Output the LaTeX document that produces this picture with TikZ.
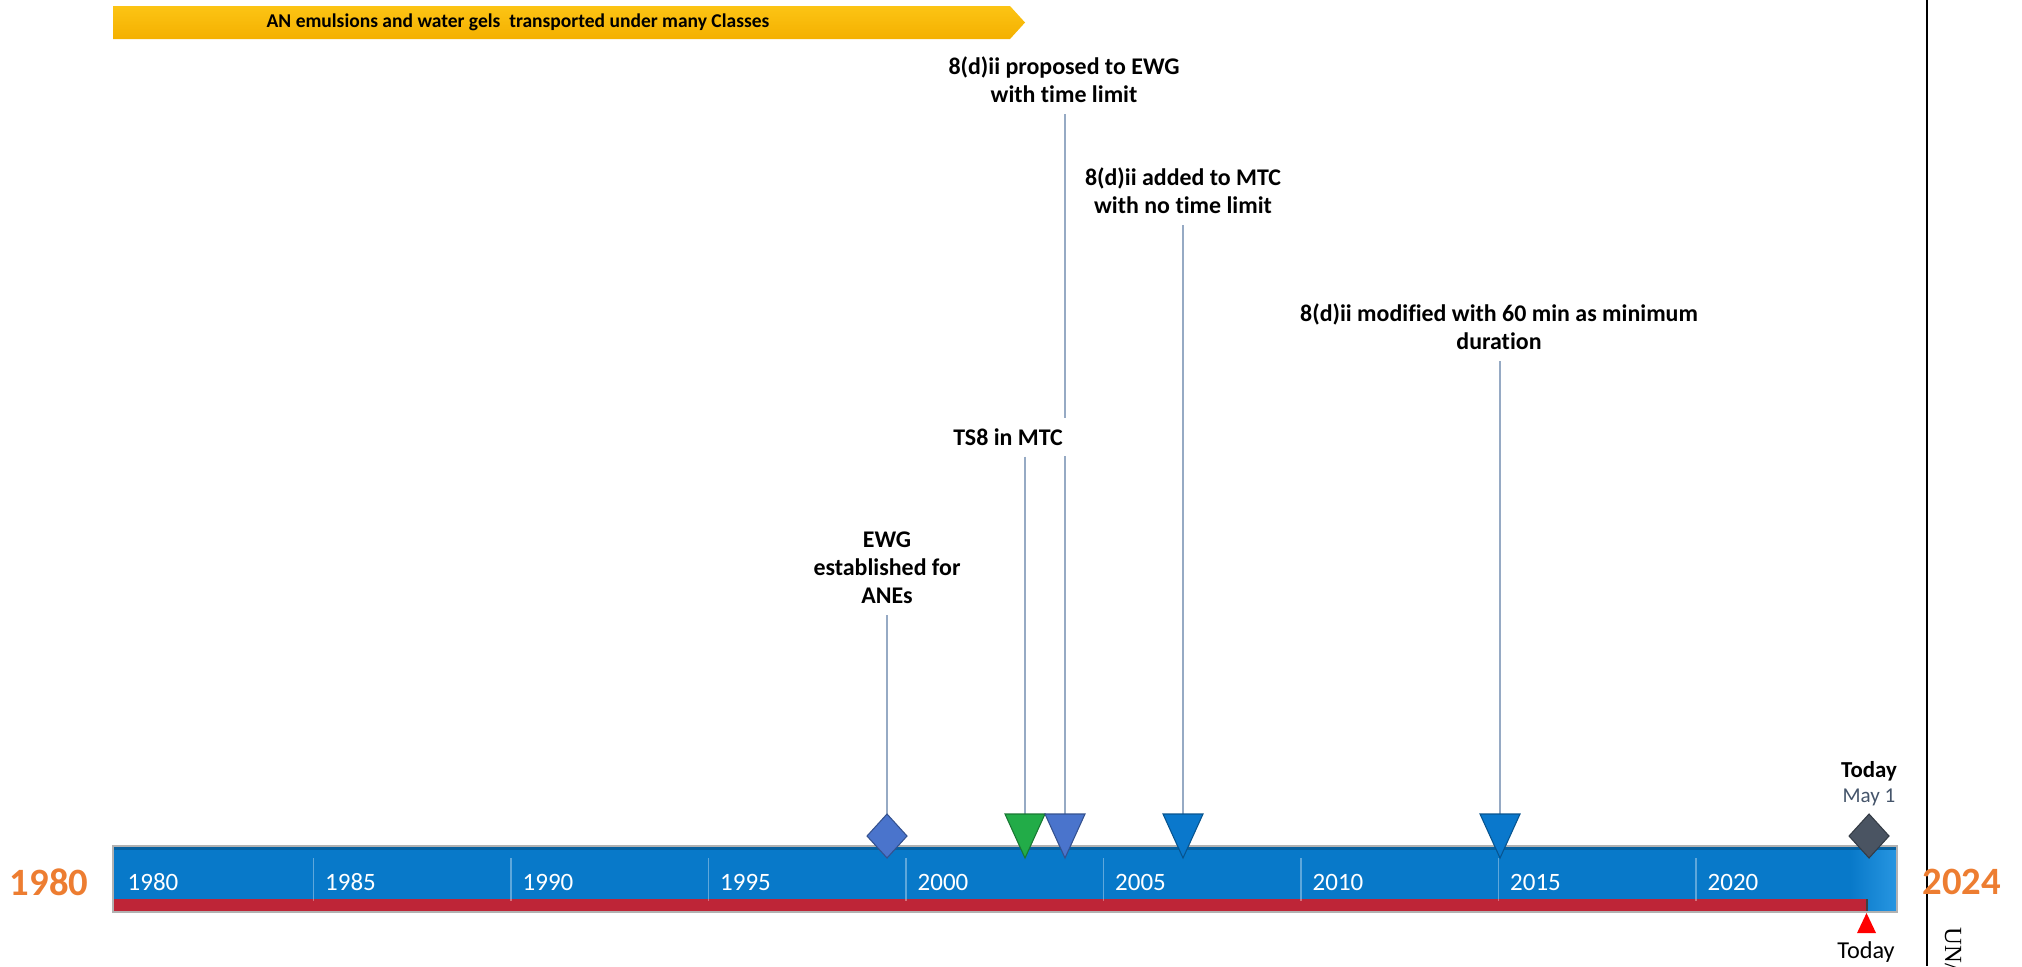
\documentclass[tikz,border=0pt]{standalone}
\usepackage{fontspec}
\setmainfont{Carlito}[Ligatures=NoCommon]
\newfontfamily\unfont{Liberation Serif}
\usetikzlibrary{backgrounds}
\definecolor{barblue}{RGB}{8,121,201}
\definecolor{barlight}{RGB}{40,150,225}
\definecolor{barred}{RGB}{190,37,55}
\definecolor{goldA}{RGB}{252,196,20}
\definecolor{goldB}{RGB}{244,176,0}
\definecolor{tsgreen}{RGB}{34,172,72}
\definecolor{ewgblue}{RGB}{74,116,204}
\definecolor{mtcblue}{RGB}{10,120,204}
\definecolor{todaygray}{RGB}{74,84,98}
\definecolor{maygray}{RGB}{68,84,106}
\definecolor{stemgray}{RGB}{150,170,196}
\definecolor{yearorange}{RGB}{237,125,49}
\begin{document}
\begin{tikzpicture}[x=0.01cm,y=-0.01cm,
    evtext/.style={align=center,font=\bfseries\fontsize{6.8}{8}\selectfont,inner sep=3pt,fill=white},
    yeartext/.style={anchor=west,inner sep=0pt,text=white,font=\fontsize{7.1}{8}\selectfont},
    bigyear/.style={text=yearorange,font=\bfseries\fontsize{11}{13}\selectfont,inner sep=0pt},
    stem/.style={stemgray,line width=0.6pt}]
        \useasboundingbox (0,0) rectangle (2022,966);
        %% Banner
        \shade[top color=goldA,bottom color=goldB] (113,6) -- (1010,6) -- (1025,22.5) -- (1010,39) -- (113,39) -- cycle;
        \node[font=\bfseries\fontsize{5.55}{6}\selectfont,inner sep=0pt] (banner) at (518,22.5) {AN emulsions and water gels\ \ transported under many Classes};
        %% Bar
        \fill[barblue] (113,846) rectangle (1897,912);
        \fill[barblue!80!black] (113,846) rectangle (1897,850);
        \shade[left color=barblue,right color=barlight] (1850,850) rectangle (1897,912);
        \fill[barred] (113,899) rectangle (1867,912);
        \draw[black!75,line width=0.5pt] (1867,899) -- (1867,912);
        \draw[gray!60,line width=0.4pt] (113,846) rectangle (1897,912);
        %% Ticks and years
        \foreach \yr in {1980,1985,...,2020}{
            \pgfmathsetmacro\xx{116+(\yr-1980)*39.5}
            \ifnum\yr>1980 \draw[white,opacity=0.35,line width=0.5pt] (\xx,858) -- (\xx,901);\fi
            \node[yeartext] (y\yr) at (\xx+11,882) {\yr};
        }
        %% Markers
        \coordinate (m1) at (887,814);
        \draw[fill=ewgblue,draw=ewgblue!70!black,line width=0.3pt] (887,814) -- (907,836) -- (887,858) -- (867,836) -- cycle;
        \foreach \xx/\cc/\nm in {1025/tsgreen/m2,1065/ewgblue/m3,1183/mtcblue/m4,1500/mtcblue/m5}{
            \coordinate (\nm) at (\xx,814);
            \draw[fill=\cc,draw=\cc!70!black,line width=0.3pt] (\xx-20,814) -- (\xx+20,814) -- (\xx,858) -- cycle;
        }
        %% Event labels
        \node[evtext] (ewg) at (887,568) {EWG\\established for\\ANEs};
        \node[evtext] (ts8) at (1008,437) {TS8 in MTC};
        \node[evtext] (prop) at (1064,80) {8(d)ii proposed to EWG\\with time limit};
        \node[evtext] (added) at (1183,191) {8(d)ii added to MTC\\with no time limit};
        \node[evtext] (modif) at (1499,327) {8(d)ii modified with 60 min as minimum\\duration};
        \begin{scope}[on background layer]
            \draw[stem] (ewg.south -| m1) -- (m1);
            \draw[stem] (ts8.south -| m2) -- (m2);
            \draw[stem] (prop.south -| m3) -- (m3);
            \draw[stem] (added.south -| m4) -- (m4);
            \draw[stem] (modif.south -| m5) -- (m5);
        \end{scope}
        %% Today
        \draw[fill=todaygray,draw=todaygray!70!black,line width=0.3pt] (1869,814) -- (1889,836) -- (1869,858) -- (1849,836) -- cycle;
        \node[font=\bfseries\fontsize{6.5}{7}\selectfont,inner sep=0pt] (today) at (1869,771) {Today};
        \node[text=maygray,font=\fontsize{6}{7}\selectfont,inner sep=0pt] (may) at (1869,797) {May 1};
        \fill[red] (1857,933) -- (1876,933) -- (1866.5,913) -- cycle;
        \node[font=\fontsize{6.9}{8}\selectfont,inner sep=0pt] (todaybot) at (1866,952) {Today};
        %% End years
        \node[bigyear] (start) at (49,882) {1980};
        \draw[line width=0.6pt] (1927,0) -- (1927,966);
        \node[bigyear,anchor=west] (end) at (1922,882) {2024};
        \node[font=\unfont\fontsize{7}{8}\selectfont,rotate=-90,anchor=west,inner sep=0pt] (un) at (1953,927) {UN/};
\end{tikzpicture}
\end{document}
